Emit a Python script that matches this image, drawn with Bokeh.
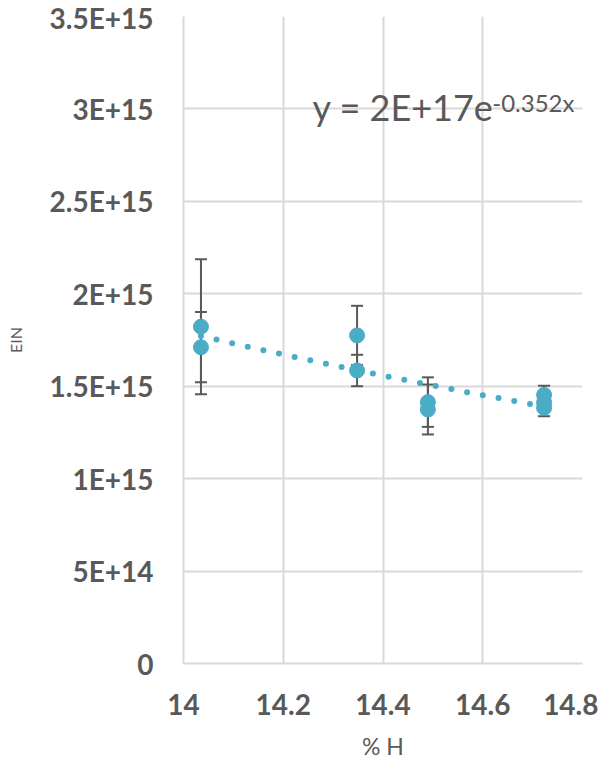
import numpy as np
from bokeh.plotting import figure
from bokeh.models import (ColumnDataSource, Range1d, FixedTicker, Whisker, TeeHead, Label)
from bokeh.embed import file_html
from bokeh.resources import INLINE

# ---- data ----
h_pct = [14.035, 14.035, 14.348, 14.348, 14.49, 14.49, 14.723, 14.723, 14.723]
ein = [1.822e15, 1.711e15, 1.775e15, 1.585e15, 1.414e15, 1.374e15, 1.453e15, 1.412e15, 1.383e15]
ein_err = [0.365e15, 0.19e15, 0.16e15, 0.085e15, 0.134e15, 0.135e15, 0.05e15, 0.045e15, 0.045e15]

x_ticks = [14.0, 14.2, 14.4, 14.6, 14.8]
x_tick_labels = ["14", "14.2", "14.4", "14.6", "14.8"]
y_ticks = [0, 5e14, 1e15, 1.5e15, 2e15, 2.5e15, 3e15, 3.5e15]
y_tick_labels = ["0", "5E+14", "1E+15", "1.5E+15", "2E+15", "2.5E+15", "3E+15", "3.5E+15"]

eq_main = "y = 2E+17e"
eq_exp = "-0.352x"

TXT = "#595959"
GRID = "#D9D9D9"
BLUE = "#4BACC6"

p = figure(frame_width=399, frame_height=647, output_backend="svg", toolbar_location=None,
           x_range=Range1d(14.0, 14.8), y_range=Range1d(0, 3.5e15),
           min_border_left=183, min_border_right=16, min_border_top=16, min_border_bottom=84)
p.outline_line_color = None
p.background_fill_color = "white"
p.border_fill_color = "white"

p.xaxis.ticker = FixedTicker(ticks=x_ticks)
p.yaxis.ticker = FixedTicker(ticks=y_ticks)
p.xaxis.major_label_overrides = {t: l for t, l in zip(x_ticks, x_tick_labels)}
p.yaxis.major_label_overrides = {t: l for t, l in zip(y_ticks, y_tick_labels)}

for ax in (p.xaxis[0], p.yaxis[0]):
    ax.axis_line_color = GRID
    ax.axis_line_width = 2
    ax.major_tick_line_color = None
    ax.minor_tick_line_color = None
    ax.major_label_text_font = "Lato"
    ax.major_label_text_font_style = "bold"
    ax.major_label_text_font_size = "28px"
    ax.major_label_text_color = TXT
    ax.axis_label_text_font = "Lato"
    ax.axis_label_text_font_style = "normal"
    ax.axis_label_text_color = TXT

p.xaxis.axis_label = "% H"
p.yaxis.axis_label = "EIN"
p.xaxis.axis_label_text_font_size = "23px"
p.yaxis.axis_label_text_font_size = "16px"
p.xaxis.major_label_standoff = 24
p.yaxis.major_label_standoff = 24
p.xaxis.axis_label_standoff = 14
p.yaxis.axis_label_standoff = 22

p.xgrid.grid_line_color = GRID
p.ygrid.grid_line_color = GRID
p.xgrid.grid_line_width = 2
p.ygrid.grid_line_width = 2

src = ColumnDataSource(dict(
    x=h_pct, y=ein,
    lo=[v - e for v, e in zip(ein, ein_err)],
    hi=[v + e for v, e in zip(ein, ein_err)],
))

wh = Whisker(source=src, base="x", lower="lo", upper="hi", dimension="height",
             line_color="#595959", line_width=2,
             lower_head=TeeHead(size=12, line_color="#595959", line_width=2),
             upper_head=TeeHead(size=12, line_color="#595959", line_width=2))
p.add_layout(wh)

p.scatter("x", "y", source=src, size=15, fill_color=BLUE, line_color=BLUE)

# exponential trendline fitted from the data (as the spreadsheet does)
xa = np.array(h_pct)
ya = np.array(ein)
b, a = np.polyfit(xa, np.log(ya), 1)
tx = np.linspace(xa.min(), xa.max(), 200)
ty = np.exp(a) * np.exp(b * tx)
p.line(tx, ty, line_color=BLUE, line_width=6, line_dash="0 16", line_cap="round")

p.add_layout(Label(x=14.2587, y=3.009e15, text=eq_main, text_font="Lato",
                   text_font_size="36px", text_color=TXT, text_baseline="alphabetic"))
p.add_layout(Label(x=14.619, y=3.035e15, text=eq_exp, text_font="Lato",
                   text_font_size="24px", text_color=TXT, text_baseline="alphabetic"))

open("out.html", "w").write(file_html(p, INLINE))
